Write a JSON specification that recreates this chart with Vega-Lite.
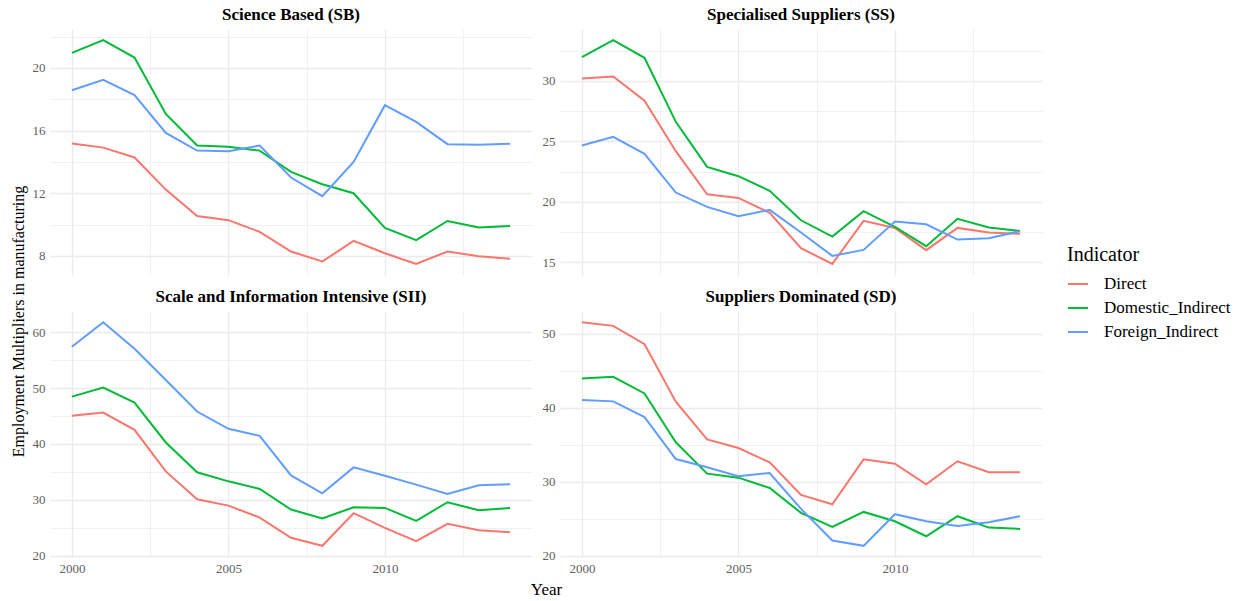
{
  "$schema": "https://vega.github.io/schema/vega-lite/v6.json",
  "padding": {"left": 10, "top": 6, "right": 5, "bottom": 4},
  "bounds": "flush",
  "columns": 2,
  "spacing": {"row": 36, "column": 28},
  "config": {
    "font": "Liberation Serif",
    "view": {"stroke": null},
    "axis": {"domain": false, "ticks": false, "gridColor": "#EBEBEB", "labelColor": "#5E5E5E", "labelFontSize": 13, "labelPadding": 5, "labelFont": "Liberation Serif", "titleFont": "Liberation Serif", "titleFontWeight": "normal", "titleColor": "#000000"},
    "title": {"font": "Liberation Serif", "fontSize": 17, "fontWeight": "bold", "color": "#000000", "anchor": "middle", "frame": "group", "baseline": "alphabetic", "offset": 5},
    "legend": {"orient": "none", "legendX": 1017, "legendY": 216, "padding": 0, "titleFont": "Liberation Serif", "titleFontSize": 20, "titleFontWeight": "normal", "titleColor": "#000000", "titlePadding": 8, "labelFont": "Liberation Serif", "labelFontSize": 17, "labelColor": "#000000", "symbolType": "stroke", "symbolSize": 400, "symbolStrokeWidth": 2, "rowPadding": 5, "labelOffset": 15}
  },
  "resolve": {"scale": {"color": "shared"}, "legend": {"color": "shared"}},
  "datasets": {
    "m": [
      {"Sector": "SB", "Indicator": "Direct", "Year": 2000, "Value": 15.17},
      {"Sector": "SB", "Indicator": "Direct", "Year": 2001, "Value": 14.91},
      {"Sector": "SB", "Indicator": "Direct", "Year": 2002, "Value": 14.28},
      {"Sector": "SB", "Indicator": "Direct", "Year": 2003, "Value": 12.23},
      {"Sector": "SB", "Indicator": "Direct", "Year": 2004, "Value": 10.55},
      {"Sector": "SB", "Indicator": "Direct", "Year": 2005, "Value": 10.28},
      {"Sector": "SB", "Indicator": "Direct", "Year": 2006, "Value": 9.53},
      {"Sector": "SB", "Indicator": "Direct", "Year": 2007, "Value": 8.28},
      {"Sector": "SB", "Indicator": "Direct", "Year": 2008, "Value": 7.64},
      {"Sector": "SB", "Indicator": "Direct", "Year": 2009, "Value": 8.96},
      {"Sector": "SB", "Indicator": "Direct", "Year": 2010, "Value": 8.17},
      {"Sector": "SB", "Indicator": "Direct", "Year": 2011, "Value": 7.49},
      {"Sector": "SB", "Indicator": "Direct", "Year": 2012, "Value": 8.28},
      {"Sector": "SB", "Indicator": "Direct", "Year": 2013, "Value": 7.98},
      {"Sector": "SB", "Indicator": "Direct", "Year": 2014, "Value": 7.81},
      {"Sector": "SB", "Indicator": "Domestic_Indirect", "Year": 2000, "Value": 20.96},
      {"Sector": "SB", "Indicator": "Domestic_Indirect", "Year": 2001, "Value": 21.77},
      {"Sector": "SB", "Indicator": "Domestic_Indirect", "Year": 2002, "Value": 20.66},
      {"Sector": "SB", "Indicator": "Domestic_Indirect", "Year": 2003, "Value": 17.06},
      {"Sector": "SB", "Indicator": "Domestic_Indirect", "Year": 2004, "Value": 15.04},
      {"Sector": "SB", "Indicator": "Domestic_Indirect", "Year": 2005, "Value": 14.96},
      {"Sector": "SB", "Indicator": "Domestic_Indirect", "Year": 2006, "Value": 14.72},
      {"Sector": "SB", "Indicator": "Domestic_Indirect", "Year": 2007, "Value": 13.36},
      {"Sector": "SB", "Indicator": "Domestic_Indirect", "Year": 2008, "Value": 12.57},
      {"Sector": "SB", "Indicator": "Domestic_Indirect", "Year": 2009, "Value": 12.00},
      {"Sector": "SB", "Indicator": "Domestic_Indirect", "Year": 2010, "Value": 9.79},
      {"Sector": "SB", "Indicator": "Domestic_Indirect", "Year": 2011, "Value": 9.00},
      {"Sector": "SB", "Indicator": "Domestic_Indirect", "Year": 2012, "Value": 10.23},
      {"Sector": "SB", "Indicator": "Domestic_Indirect", "Year": 2013, "Value": 9.81},
      {"Sector": "SB", "Indicator": "Domestic_Indirect", "Year": 2014, "Value": 9.91},
      {"Sector": "SB", "Indicator": "Foreign_Indirect", "Year": 2000, "Value": 18.57},
      {"Sector": "SB", "Indicator": "Foreign_Indirect", "Year": 2001, "Value": 19.23},
      {"Sector": "SB", "Indicator": "Foreign_Indirect", "Year": 2002, "Value": 18.26},
      {"Sector": "SB", "Indicator": "Foreign_Indirect", "Year": 2003, "Value": 15.85},
      {"Sector": "SB", "Indicator": "Foreign_Indirect", "Year": 2004, "Value": 14.72},
      {"Sector": "SB", "Indicator": "Foreign_Indirect", "Year": 2005, "Value": 14.68},
      {"Sector": "SB", "Indicator": "Foreign_Indirect", "Year": 2006, "Value": 15.04},
      {"Sector": "SB", "Indicator": "Foreign_Indirect", "Year": 2007, "Value": 13.00},
      {"Sector": "SB", "Indicator": "Foreign_Indirect", "Year": 2008, "Value": 11.81},
      {"Sector": "SB", "Indicator": "Foreign_Indirect", "Year": 2009, "Value": 14.00},
      {"Sector": "SB", "Indicator": "Foreign_Indirect", "Year": 2010, "Value": 17.62},
      {"Sector": "SB", "Indicator": "Foreign_Indirect", "Year": 2011, "Value": 16.55},
      {"Sector": "SB", "Indicator": "Foreign_Indirect", "Year": 2012, "Value": 15.13},
      {"Sector": "SB", "Indicator": "Foreign_Indirect", "Year": 2013, "Value": 15.09},
      {"Sector": "SB", "Indicator": "Foreign_Indirect", "Year": 2014, "Value": 15.15},
      {"Sector": "SS", "Indicator": "Direct", "Year": 2000, "Value": 30.19},
      {"Sector": "SS", "Indicator": "Direct", "Year": 2001, "Value": 30.36},
      {"Sector": "SS", "Indicator": "Direct", "Year": 2002, "Value": 28.35},
      {"Sector": "SS", "Indicator": "Direct", "Year": 2003, "Value": 24.19},
      {"Sector": "SS", "Indicator": "Direct", "Year": 2004, "Value": 20.63},
      {"Sector": "SS", "Indicator": "Direct", "Year": 2005, "Value": 20.33},
      {"Sector": "SS", "Indicator": "Direct", "Year": 2006, "Value": 19.09},
      {"Sector": "SS", "Indicator": "Direct", "Year": 2007, "Value": 16.17},
      {"Sector": "SS", "Indicator": "Direct", "Year": 2008, "Value": 14.88},
      {"Sector": "SS", "Indicator": "Direct", "Year": 2009, "Value": 18.43},
      {"Sector": "SS", "Indicator": "Direct", "Year": 2010, "Value": 17.85},
      {"Sector": "SS", "Indicator": "Direct", "Year": 2011, "Value": 16.01},
      {"Sector": "SS", "Indicator": "Direct", "Year": 2012, "Value": 17.85},
      {"Sector": "SS", "Indicator": "Direct", "Year": 2013, "Value": 17.47},
      {"Sector": "SS", "Indicator": "Direct", "Year": 2014, "Value": 17.36},
      {"Sector": "SS", "Indicator": "Domestic_Indirect", "Year": 2000, "Value": 31.96},
      {"Sector": "SS", "Indicator": "Domestic_Indirect", "Year": 2001, "Value": 33.36},
      {"Sector": "SS", "Indicator": "Domestic_Indirect", "Year": 2002, "Value": 31.90},
      {"Sector": "SS", "Indicator": "Domestic_Indirect", "Year": 2003, "Value": 26.61},
      {"Sector": "SS", "Indicator": "Domestic_Indirect", "Year": 2004, "Value": 22.89},
      {"Sector": "SS", "Indicator": "Domestic_Indirect", "Year": 2005, "Value": 22.12},
      {"Sector": "SS", "Indicator": "Domestic_Indirect", "Year": 2006, "Value": 20.91},
      {"Sector": "SS", "Indicator": "Domestic_Indirect", "Year": 2007, "Value": 18.48},
      {"Sector": "SS", "Indicator": "Domestic_Indirect", "Year": 2008, "Value": 17.13},
      {"Sector": "SS", "Indicator": "Domestic_Indirect", "Year": 2009, "Value": 19.23},
      {"Sector": "SS", "Indicator": "Domestic_Indirect", "Year": 2010, "Value": 17.93},
      {"Sector": "SS", "Indicator": "Domestic_Indirect", "Year": 2011, "Value": 16.34},
      {"Sector": "SS", "Indicator": "Domestic_Indirect", "Year": 2012, "Value": 18.60},
      {"Sector": "SS", "Indicator": "Domestic_Indirect", "Year": 2013, "Value": 17.88},
      {"Sector": "SS", "Indicator": "Domestic_Indirect", "Year": 2014, "Value": 17.60},
      {"Sector": "SS", "Indicator": "Foreign_Indirect", "Year": 2000, "Value": 24.66},
      {"Sector": "SS", "Indicator": "Foreign_Indirect", "Year": 2001, "Value": 25.37},
      {"Sector": "SS", "Indicator": "Foreign_Indirect", "Year": 2002, "Value": 23.97},
      {"Sector": "SS", "Indicator": "Foreign_Indirect", "Year": 2003, "Value": 20.77},
      {"Sector": "SS", "Indicator": "Foreign_Indirect", "Year": 2004, "Value": 19.59},
      {"Sector": "SS", "Indicator": "Foreign_Indirect", "Year": 2005, "Value": 18.82},
      {"Sector": "SS", "Indicator": "Foreign_Indirect", "Year": 2006, "Value": 19.34},
      {"Sector": "SS", "Indicator": "Foreign_Indirect", "Year": 2007, "Value": 17.47},
      {"Sector": "SS", "Indicator": "Foreign_Indirect", "Year": 2008, "Value": 15.54},
      {"Sector": "SS", "Indicator": "Foreign_Indirect", "Year": 2009, "Value": 16.03},
      {"Sector": "SS", "Indicator": "Foreign_Indirect", "Year": 2010, "Value": 18.37},
      {"Sector": "SS", "Indicator": "Foreign_Indirect", "Year": 2011, "Value": 18.15},
      {"Sector": "SS", "Indicator": "Foreign_Indirect", "Year": 2012, "Value": 16.89},
      {"Sector": "SS", "Indicator": "Foreign_Indirect", "Year": 2013, "Value": 17.00},
      {"Sector": "SS", "Indicator": "Foreign_Indirect", "Year": 2014, "Value": 17.58},
      {"Sector": "SII", "Indicator": "Direct", "Year": 2000, "Value": 45.03},
      {"Sector": "SII", "Indicator": "Direct", "Year": 2001, "Value": 45.62},
      {"Sector": "SII", "Indicator": "Direct", "Year": 2002, "Value": 42.53},
      {"Sector": "SII", "Indicator": "Direct", "Year": 2003, "Value": 35.10},
      {"Sector": "SII", "Indicator": "Direct", "Year": 2004, "Value": 30.11},
      {"Sector": "SII", "Indicator": "Direct", "Year": 2005, "Value": 28.98},
      {"Sector": "SII", "Indicator": "Direct", "Year": 2006, "Value": 26.84},
      {"Sector": "SII", "Indicator": "Direct", "Year": 2007, "Value": 23.22},
      {"Sector": "SII", "Indicator": "Direct", "Year": 2008, "Value": 21.79},
      {"Sector": "SII", "Indicator": "Direct", "Year": 2009, "Value": 27.62},
      {"Sector": "SII", "Indicator": "Direct", "Year": 2010, "Value": 25.00},
      {"Sector": "SII", "Indicator": "Direct", "Year": 2011, "Value": 22.63},
      {"Sector": "SII", "Indicator": "Direct", "Year": 2012, "Value": 25.72},
      {"Sector": "SII", "Indicator": "Direct", "Year": 2013, "Value": 24.59},
      {"Sector": "SII", "Indicator": "Direct", "Year": 2014, "Value": 24.23},
      {"Sector": "SII", "Indicator": "Domestic_Indirect", "Year": 2000, "Value": 48.47},
      {"Sector": "SII", "Indicator": "Domestic_Indirect", "Year": 2001, "Value": 50.08},
      {"Sector": "SII", "Indicator": "Domestic_Indirect", "Year": 2002, "Value": 47.40},
      {"Sector": "SII", "Indicator": "Domestic_Indirect", "Year": 2003, "Value": 40.27},
      {"Sector": "SII", "Indicator": "Domestic_Indirect", "Year": 2004, "Value": 34.93},
      {"Sector": "SII", "Indicator": "Domestic_Indirect", "Year": 2005, "Value": 33.32},
      {"Sector": "SII", "Indicator": "Domestic_Indirect", "Year": 2006, "Value": 31.96},
      {"Sector": "SII", "Indicator": "Domestic_Indirect", "Year": 2007, "Value": 28.27},
      {"Sector": "SII", "Indicator": "Domestic_Indirect", "Year": 2008, "Value": 26.67},
      {"Sector": "SII", "Indicator": "Domestic_Indirect", "Year": 2009, "Value": 28.69},
      {"Sector": "SII", "Indicator": "Domestic_Indirect", "Year": 2010, "Value": 28.57},
      {"Sector": "SII", "Indicator": "Domestic_Indirect", "Year": 2011, "Value": 26.25},
      {"Sector": "SII", "Indicator": "Domestic_Indirect", "Year": 2012, "Value": 29.58},
      {"Sector": "SII", "Indicator": "Domestic_Indirect", "Year": 2013, "Value": 28.15},
      {"Sector": "SII", "Indicator": "Domestic_Indirect", "Year": 2014, "Value": 28.57},
      {"Sector": "SII", "Indicator": "Foreign_Indirect", "Year": 2000, "Value": 57.39},
      {"Sector": "SII", "Indicator": "Foreign_Indirect", "Year": 2001, "Value": 61.78},
      {"Sector": "SII", "Indicator": "Foreign_Indirect", "Year": 2002, "Value": 57.03},
      {"Sector": "SII", "Indicator": "Foreign_Indirect", "Year": 2003, "Value": 51.44},
      {"Sector": "SII", "Indicator": "Foreign_Indirect", "Year": 2004, "Value": 45.80},
      {"Sector": "SII", "Indicator": "Foreign_Indirect", "Year": 2005, "Value": 42.71},
      {"Sector": "SII", "Indicator": "Foreign_Indirect", "Year": 2006, "Value": 41.46},
      {"Sector": "SII", "Indicator": "Foreign_Indirect", "Year": 2007, "Value": 34.39},
      {"Sector": "SII", "Indicator": "Foreign_Indirect", "Year": 2008, "Value": 31.18},
      {"Sector": "SII", "Indicator": "Foreign_Indirect", "Year": 2009, "Value": 35.82},
      {"Sector": "SII", "Indicator": "Foreign_Indirect", "Year": 2010, "Value": 34.33},
      {"Sector": "SII", "Indicator": "Foreign_Indirect", "Year": 2011, "Value": 32.73},
      {"Sector": "SII", "Indicator": "Foreign_Indirect", "Year": 2012, "Value": 31.06},
      {"Sector": "SII", "Indicator": "Foreign_Indirect", "Year": 2013, "Value": 32.61},
      {"Sector": "SII", "Indicator": "Foreign_Indirect", "Year": 2014, "Value": 32.79},
      {"Sector": "SD", "Indicator": "Direct", "Year": 2000, "Value": 51.58},
      {"Sector": "SD", "Indicator": "Direct", "Year": 2001, "Value": 51.08},
      {"Sector": "SD", "Indicator": "Direct", "Year": 2002, "Value": 48.60},
      {"Sector": "SD", "Indicator": "Direct", "Year": 2003, "Value": 40.81},
      {"Sector": "SD", "Indicator": "Direct", "Year": 2004, "Value": 35.72},
      {"Sector": "SD", "Indicator": "Direct", "Year": 2005, "Value": 34.55},
      {"Sector": "SD", "Indicator": "Direct", "Year": 2006, "Value": 32.61},
      {"Sector": "SD", "Indicator": "Direct", "Year": 2007, "Value": 28.20},
      {"Sector": "SD", "Indicator": "Direct", "Year": 2008, "Value": 26.94},
      {"Sector": "SD", "Indicator": "Direct", "Year": 2009, "Value": 33.02},
      {"Sector": "SD", "Indicator": "Direct", "Year": 2010, "Value": 32.43},
      {"Sector": "SD", "Indicator": "Direct", "Year": 2011, "Value": 29.64},
      {"Sector": "SD", "Indicator": "Direct", "Year": 2012, "Value": 32.75},
      {"Sector": "SD", "Indicator": "Direct", "Year": 2013, "Value": 31.26},
      {"Sector": "SD", "Indicator": "Direct", "Year": 2014, "Value": 31.26},
      {"Sector": "SD", "Indicator": "Domestic_Indirect", "Year": 2000, "Value": 43.96},
      {"Sector": "SD", "Indicator": "Domestic_Indirect", "Year": 2001, "Value": 44.19},
      {"Sector": "SD", "Indicator": "Domestic_Indirect", "Year": 2002, "Value": 41.94},
      {"Sector": "SD", "Indicator": "Domestic_Indirect", "Year": 2003, "Value": 35.32},
      {"Sector": "SD", "Indicator": "Domestic_Indirect", "Year": 2004, "Value": 31.08},
      {"Sector": "SD", "Indicator": "Domestic_Indirect", "Year": 2005, "Value": 30.54},
      {"Sector": "SD", "Indicator": "Domestic_Indirect", "Year": 2006, "Value": 29.14},
      {"Sector": "SD", "Indicator": "Domestic_Indirect", "Year": 2007, "Value": 25.77},
      {"Sector": "SD", "Indicator": "Domestic_Indirect", "Year": 2008, "Value": 23.87},
      {"Sector": "SD", "Indicator": "Domestic_Indirect", "Year": 2009, "Value": 25.90},
      {"Sector": "SD", "Indicator": "Domestic_Indirect", "Year": 2010, "Value": 24.64},
      {"Sector": "SD", "Indicator": "Domestic_Indirect", "Year": 2011, "Value": 22.61},
      {"Sector": "SD", "Indicator": "Domestic_Indirect", "Year": 2012, "Value": 25.32},
      {"Sector": "SD", "Indicator": "Domestic_Indirect", "Year": 2013, "Value": 23.78},
      {"Sector": "SD", "Indicator": "Domestic_Indirect", "Year": 2014, "Value": 23.60},
      {"Sector": "SD", "Indicator": "Foreign_Indirect", "Year": 2000, "Value": 41.04},
      {"Sector": "SD", "Indicator": "Foreign_Indirect", "Year": 2001, "Value": 40.86},
      {"Sector": "SD", "Indicator": "Foreign_Indirect", "Year": 2002, "Value": 38.74},
      {"Sector": "SD", "Indicator": "Foreign_Indirect", "Year": 2003, "Value": 33.06},
      {"Sector": "SD", "Indicator": "Foreign_Indirect", "Year": 2004, "Value": 31.94},
      {"Sector": "SD", "Indicator": "Foreign_Indirect", "Year": 2005, "Value": 30.72},
      {"Sector": "SD", "Indicator": "Foreign_Indirect", "Year": 2006, "Value": 31.17},
      {"Sector": "SD", "Indicator": "Foreign_Indirect", "Year": 2007, "Value": 26.31},
      {"Sector": "SD", "Indicator": "Foreign_Indirect", "Year": 2008, "Value": 22.03},
      {"Sector": "SD", "Indicator": "Foreign_Indirect", "Year": 2009, "Value": 21.31},
      {"Sector": "SD", "Indicator": "Foreign_Indirect", "Year": 2010, "Value": 25.59},
      {"Sector": "SD", "Indicator": "Foreign_Indirect", "Year": 2011, "Value": 24.64},
      {"Sector": "SD", "Indicator": "Foreign_Indirect", "Year": 2012, "Value": 24.01},
      {"Sector": "SD", "Indicator": "Foreign_Indirect", "Year": 2013, "Value": 24.50},
      {"Sector": "SD", "Indicator": "Foreign_Indirect", "Year": 2014, "Value": 25.32}
    ]
  },
  "concat": [
    {
      "width": 482, "height": 246,
      "title": "Science Based (SB)",
      "data": {"name": "m"},
      "transform": [{"filter": "datum.Sector === 'SB'"}],
      "mark": {"type": "line", "strokeWidth": 2},
      "encoding": {
        "x": {"field": "Year", "type": "quantitative", "scale": {"domain": [1999.3, 2014.7], "nice": false, "zero": false},
              "axis": {"values": [2000, 2002.5, 2005, 2007.5, 2010, 2012.5], "labels": false, "title": null, "gridWidth": {"condition": {"test": "datum.value % 5 === 0", "value": 1.3}, "value": 0.7}}},
        "y": {"field": "Value", "type": "quantitative", "scale": {"domain": [6.78, 22.48], "nice": false, "zero": false},
              "axis": {"values": [8, 10, 12, 14, 16, 18, 20, 22], "labelExpr": "datum.value % 4 === 0 ? datum.label : ''", "gridWidth": {"condition": {"test": "datum.value % 4 === 0", "value": 1.3}, "value": 0.7},
                       "title": "Employment Multipliers in manufacturing", "titleFontSize": 16, "titleAngle": -90, "titleAlign": "center", "titleBaseline": "alphabetic", "titleX": -27, "titleY": 292}},
        "color": {"field": "Indicator", "type": "nominal", "scale": {"domain": ["Direct", "Domestic_Indirect", "Foreign_Indirect"], "range": ["#F8766D", "#00BA38", "#619CFF"]}, "legend": {"title": "Indicator"}}
      }
    },
    {
      "width": 482, "height": 246,
      "title": "Specialised Suppliers (SS)",
      "data": {"name": "m"},
      "transform": [{"filter": "datum.Sector === 'SS'"}],
      "mark": {"type": "line", "strokeWidth": 2},
      "encoding": {
        "x": {"field": "Year", "type": "quantitative", "scale": {"domain": [1999.3, 2014.7], "nice": false, "zero": false},
              "axis": {"values": [2000, 2002.5, 2005, 2007.5, 2010, 2012.5], "labels": false, "title": null, "gridWidth": {"condition": {"test": "datum.value % 5 === 0", "value": 1.3}, "value": 0.7}}},
        "y": {"field": "Value", "type": "quantitative", "scale": {"domain": [13.96, 34.28], "nice": false, "zero": false},
              "axis": {"values": [15, 17.5, 20, 22.5, 25, 27.5, 30, 32.5], "labelExpr": "datum.value % 5 === 0 ? datum.label : ''", "gridWidth": {"condition": {"test": "datum.value % 5 === 0", "value": 1.3}, "value": 0.7}, "title": null}},
        "color": {"field": "Indicator", "type": "nominal", "scale": {"domain": ["Direct", "Domestic_Indirect", "Foreign_Indirect"], "range": ["#F8766D", "#00BA38", "#619CFF"]}, "legend": {"title": "Indicator"}}
      }
    },
    {
      "width": 482, "height": 246,
      "title": "Scale and Information Intensive (SII)",
      "data": {"name": "m"},
      "transform": [{"filter": "datum.Sector === 'SII'"}],
      "mark": {"type": "line", "strokeWidth": 2},
      "encoding": {
        "x": {"field": "Year", "type": "quantitative", "scale": {"domain": [1999.3, 2014.7], "nice": false, "zero": false},
              "axis": {"values": [2000, 2002.5, 2005, 2007.5, 2010, 2012.5], "format": "d", "labelExpr": "datum.value % 5 === 0 ? datum.label : ''", "gridWidth": {"condition": {"test": "datum.value % 5 === 0", "value": 1.3}, "value": 0.7},
                       "title": "Year", "titleFontSize": 17, "titleBaseline": "alphabetic", "titleX": 496, "titleY": 37}},
        "y": {"field": "Value", "type": "quantitative", "scale": {"domain": [19.79, 63.78], "nice": false, "zero": false},
              "axis": {"values": [20, 25, 30, 35, 40, 45, 50, 55, 60], "labelExpr": "datum.value % 10 === 0 ? datum.label : ''", "gridWidth": {"condition": {"test": "datum.value % 10 === 0", "value": 1.3}, "value": 0.7}, "title": null}},
        "color": {"field": "Indicator", "type": "nominal", "scale": {"domain": ["Direct", "Domestic_Indirect", "Foreign_Indirect"], "range": ["#F8766D", "#00BA38", "#619CFF"]}, "legend": {"title": "Indicator"}}
      }
    },
    {
      "width": 482, "height": 246,
      "title": "Suppliers Dominated (SD)",
      "data": {"name": "m"},
      "transform": [{"filter": "datum.Sector === 'SD'"}],
      "mark": {"type": "line", "strokeWidth": 2},
      "encoding": {
        "x": {"field": "Year", "type": "quantitative", "scale": {"domain": [1999.3, 2014.7], "nice": false, "zero": false},
              "axis": {"values": [2000, 2002.5, 2005, 2007.5, 2010, 2012.5], "format": "d", "labelExpr": "datum.value % 5 === 0 ? datum.label : ''", "gridWidth": {"condition": {"test": "datum.value % 5 === 0", "value": 1.3}, "value": 0.7}, "title": null}},
        "y": {"field": "Value", "type": "quantitative", "scale": {"domain": [19.80, 53.09], "nice": false, "zero": false},
              "axis": {"values": [20, 25, 30, 35, 40, 45, 50], "labelExpr": "datum.value % 10 === 0 ? datum.label : ''", "gridWidth": {"condition": {"test": "datum.value % 10 === 0", "value": 1.3}, "value": 0.7}, "title": null}},
        "color": {"field": "Indicator", "type": "nominal", "scale": {"domain": ["Direct", "Domestic_Indirect", "Foreign_Indirect"], "range": ["#F8766D", "#00BA38", "#619CFF"]}, "legend": {"title": "Indicator"}}
      }
    }
  ]
}
